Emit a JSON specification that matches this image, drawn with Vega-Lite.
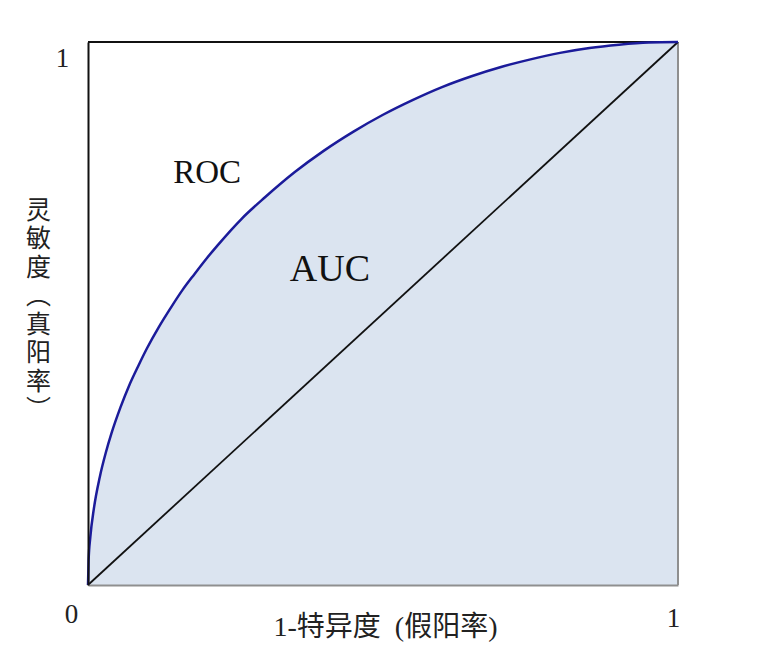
{
  "$schema": "https://vega.github.io/schema/vega-lite/v6.json",
  "width": 590,
  "height": 543,
  "autosize": {"type": "none"},
  "padding": {"left": 88, "top": 42, "right": 96, "bottom": 75},
  "background": "white",
  "config": {"view": {"stroke": null}, "axis": {"grid": false}},
  "datasets": {
    "roc": [
      {"fpr": 0, "tpr": 0},
      {"fpr": 0.001, "tpr": 0.045},
      {"fpr": 0.004, "tpr": 0.089},
      {"fpr": 0.01, "tpr": 0.141},
      {"fpr": 0.02, "tpr": 0.199},
      {"fpr": 0.03, "tpr": 0.243},
      {"fpr": 0.04, "tpr": 0.280},
      {"fpr": 0.055, "tpr": 0.327},
      {"fpr": 0.07, "tpr": 0.368},
      {"fpr": 0.085, "tpr": 0.403},
      {"fpr": 0.10, "tpr": 0.436},
      {"fpr": 0.12, "tpr": 0.475},
      {"fpr": 0.14, "tpr": 0.510},
      {"fpr": 0.16, "tpr": 0.543},
      {"fpr": 0.18, "tpr": 0.572},
      {"fpr": 0.20, "tpr": 0.600},
      {"fpr": 0.22, "tpr": 0.626},
      {"fpr": 0.26, "tpr": 0.674},
      {"fpr": 0.30, "tpr": 0.714},
      {"fpr": 0.35, "tpr": 0.760},
      {"fpr": 0.40, "tpr": 0.800},
      {"fpr": 0.45, "tpr": 0.835},
      {"fpr": 0.50, "tpr": 0.866},
      {"fpr": 0.55, "tpr": 0.893},
      {"fpr": 0.60, "tpr": 0.917},
      {"fpr": 0.65, "tpr": 0.937},
      {"fpr": 0.70, "tpr": 0.954},
      {"fpr": 0.75, "tpr": 0.968},
      {"fpr": 0.80, "tpr": 0.980},
      {"fpr": 0.85, "tpr": 0.989},
      {"fpr": 0.90, "tpr": 0.995},
      {"fpr": 0.95, "tpr": 0.999},
      {"fpr": 1.0, "tpr": 1.0}
    ],
    "labels": [
      {"label": "ROC", "fpr": 0.202, "tpr": 0.759},
      {"label": "AUC", "fpr": 0.410, "tpr": 0.580}
    ]
  },
  "layer": [
    {
      "data": {"name": "roc"},
      "mark": {"type": "area", "interpolate": "monotone", "color": "#dbe4f0"},
      "encoding": {
        "x": {
          "field": "fpr", "type": "quantitative",
          "scale": {"domain": [0, 1], "nice": false},
          "axis": {
            "values": [0, 1], "format": "d",
            "title": "1-特异度\u00a0\u00a0(假阳率)",
            "ticks": false, "tickSize": 0,
            "domainColor": "#8f8f8f", "domainWidth": 2,
            "labelFont": "Liberation Serif", "labelFontSize": 27, "labelColor": "#222",
            "labelFlush": false, "labelOverlap": false,
            "labelAlign": "center", "labelBaseline": "middle",
            "labelPadding": {"condition": {"test": "datum.value == 0", "value": 29}, "value": 33},
            "labelOffset": {"condition": {"test": "datum.value == 0", "value": -17}, "value": -5},
            "titleFont": "Liberation Serif, Noto Sans CJK SC", "titleFontSize": 28,
            "titleFontWeight": "normal", "titleColor": "#222",
            "titleX": 297, "titleY": 42, "titleAlign": "center", "titleBaseline": "middle",
            "zindex": 1
          }
        },
        "y": {
          "field": "tpr", "type": "quantitative",
          "scale": {"domain": [0, 1], "nice": false},
          "axis": {
            "values": [1], "format": "d",
            "title": ["灵", "敏", "度", "︵", "真", "阳", "率", "︶"],
            "ticks": false, "tickSize": 0,
            "domainColor": "#111", "domainWidth": 2,
            "labelFont": "Liberation Serif", "labelFontSize": 27, "labelColor": "#222",
            "labelFlush": false,
            "labelAlign": "center", "labelBaseline": "middle",
            "labelPadding": 26, "labelOffset": 16,
            "titleAngle": 0, "titleX": -50, "titleY": 168,
            "titleAlign": "center", "titleBaseline": "middle",
            "titleFont": "Noto Sans CJK SC", "titleFontSize": 25, "titleLineHeight": 28.5,
            "titleFontWeight": "normal", "titleColor": "#222",
            "zindex": 1
          }
        }
      }
    },
    {
      "data": {"values": [{}]},
      "mark": {"type": "rule", "color": "#8f8f8f", "strokeWidth": 2},
      "encoding": {
        "x": {"datum": 1, "type": "quantitative"},
        "y": {"datum": 0, "type": "quantitative"},
        "y2": {"datum": 1}
      }
    },
    {
      "data": {"values": [{}]},
      "mark": {"type": "rule", "color": "#111", "strokeWidth": 2},
      "encoding": {
        "x": {"datum": 0, "type": "quantitative"},
        "x2": {"datum": 1},
        "y": {"datum": 1, "type": "quantitative"}
      }
    },
    {
      "data": {"values": [{}]},
      "mark": {"type": "rule", "color": "#111", "strokeWidth": 1.8},
      "encoding": {
        "x": {"datum": 0, "type": "quantitative"},
        "x2": {"datum": 1},
        "y": {"datum": 0, "type": "quantitative"},
        "y2": {"datum": 1}
      }
    },
    {
      "data": {"name": "roc"},
      "mark": {"type": "line", "interpolate": "monotone", "color": "#1b1b9a", "strokeWidth": 2.5},
      "encoding": {
        "x": {"field": "fpr", "type": "quantitative"},
        "y": {"field": "tpr", "type": "quantitative"}
      }
    },
    {
      "data": {"name": "labels"},
      "transform": [{"filter": "datum.label == 'ROC'"}],
      "mark": {"type": "text", "font": "Liberation Serif", "fontSize": 33, "color": "#111", "align": "center", "baseline": "middle"},
      "encoding": {
        "x": {"field": "fpr", "type": "quantitative"},
        "y": {"field": "tpr", "type": "quantitative"},
        "text": {"field": "label"}
      }
    },
    {
      "data": {"name": "labels"},
      "transform": [{"filter": "datum.label == 'AUC'"}],
      "mark": {"type": "text", "font": "Liberation Serif", "fontSize": 38, "color": "#111", "align": "center", "baseline": "middle"},
      "encoding": {
        "x": {"field": "fpr", "type": "quantitative"},
        "y": {"field": "tpr", "type": "quantitative"},
        "text": {"field": "label"}
      }
    }
  ]
}
